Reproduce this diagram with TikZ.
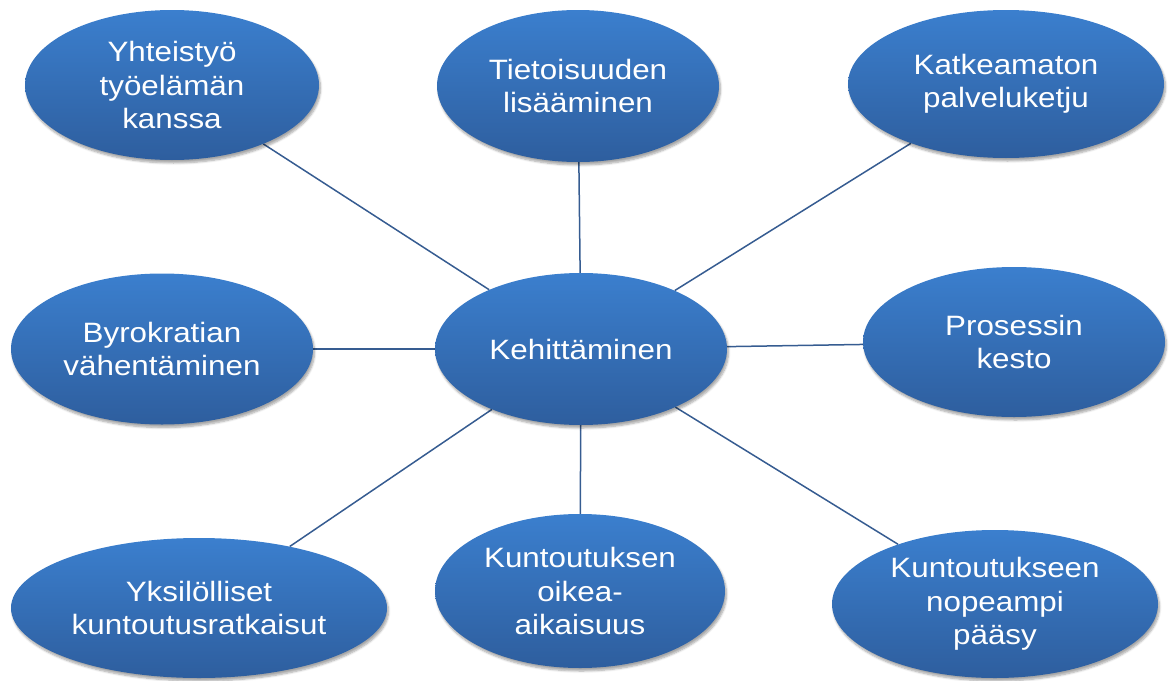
\documentclass[tikz,border=0pt]{standalone}
\usepackage{fontspec}
\setmainfont{Liberation Sans}[FakeStretch=1.12]
\usetikzlibrary{shapes.geometric,shadows.blur,backgrounds}
\definecolor{topblue}{RGB}{59,127,206}
\definecolor{botblue}{RGB}{46,94,158}
\definecolor{linkblue}{RGB}{54,92,145}
\tikzset{
  bubble/.style={ellipse, inner sep=0pt, top color=topblue, bottom color=botblue,
    draw=none, text=white, align=center,
    font=\fontsize{28}{33.5}\selectfont,
    blur shadow={shadow xshift=1.5pt, shadow yshift=-3pt, shadow blur steps=6, shadow opacity=35}},
  link/.style={draw=linkblue, line width=1.5pt}
}
\begin{document}
\begin{tikzpicture}[x=1pt,y=-1pt]
\useasboundingbox (0,0) rectangle (1169,680);
\node[bubble, minimum width=292pt, minimum height=152pt] (c) at (581,349) {Kehittäminen};
\node[bubble, minimum width=294pt, minimum height=150pt] (n1) at (172,85) {Yhteistyö\\työelämän\\kanssa};
\node[bubble, minimum width=282pt, minimum height=152pt] (n2) at (578,86) {Tietoisuuden\\lisääminen};
\node[bubble, minimum width=316pt, minimum height=148pt] (n3) at (1006,84) {Katkeamaton\\palveluketju};
\node[bubble, minimum width=302pt, minimum height=151pt] (n4) at (162,349) {Byrokratian\\vähentäminen};
\node[bubble, minimum width=302pt, minimum height=150pt] (n5) at (1014,342) {Prosessin\\kesto};
\node[bubble, minimum width=376pt, minimum height=140pt] (n6) at (199,608) {Yksilölliset\\kuntoutusratkaisut};
\node[bubble, minimum width=290pt, minimum height=154pt] (n7) at (580,591) {Kuntoutuksen\\oikea-\\aikaisuus};
\node[bubble, minimum width=326pt, minimum height=148pt] (n8) at (995,604) {Kuntoutukseen\\nopeampi\\pääsy};
\begin{scope}[on background layer]
\foreach \n in {n1,n2,n3,n4,n5,n6,n7,n8} \draw[link] (c) -- (\n);
\end{scope}
\end{tikzpicture}
\end{document}
